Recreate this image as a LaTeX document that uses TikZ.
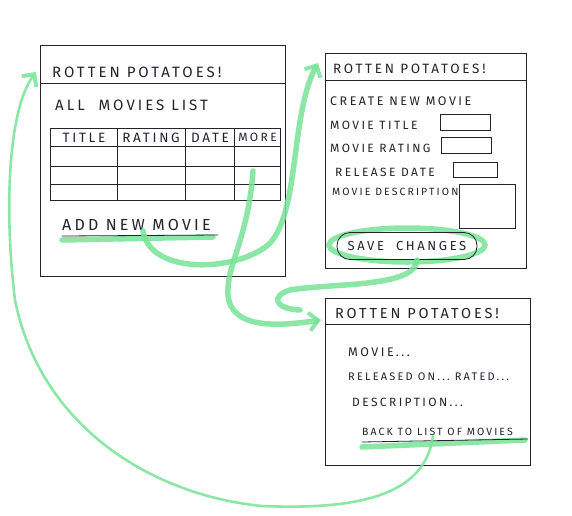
\documentclass[tikz,border=0pt]{standalone}
\usepackage{fontspec}
\newfontfamily\hand[LetterSpace=20]{Fira Sans}
\definecolor{markgreen}{RGB}{120, 226, 150}
\definecolor{penink}{RGB}{35, 35, 45}
\usetikzlibrary{arrows.meta, positioning, calc}

\begin{document}
\begin{tikzpicture}[
  x=1pt, y=-1pt,
  screen/.style={draw=penink, line width=0.9pt, minimum width=#1, inner sep=0pt},
  txt/.style={anchor=west, inner sep=0pt, text=penink, font=\hand\fontsize{#1}{#1}\selectfont},
  txt/.default=15,
  field/.style={draw=penink, line width=0.8pt, inner sep=0pt},
  marker/.style={draw=markgreen, line width=5.5pt, line cap=round, opacity=0.85},
  flow/.style={marker, -{Straight Barb[length=9pt, width=18pt, line width=4pt]}},
  longflow/.style={draw=markgreen, line width=2.6pt, line cap=round, opacity=0.85, -{Straight Barb[length=9pt, width=18pt, line width=4pt]}}
]
  \useasboundingbox (0,0) rectangle (572,515);

  % list screen
  \node[screen=245pt, minimum height=231pt] (scrA) at (162.5,160.5) {};
  \draw[penink, line width=0.9pt] (scrA.west |- 0,83) -- (scrA.east |- 0,83);
  \node[txt] (titleA) at (52,72) {ROTTEN POTATOES!};
  \node[txt] (allList) at (55,105) {ALL\ \ MOVIES LIST};
  \draw[penink, line width=0.8pt] (50,128) rectangle (280,200);
  \foreach \y in {146,166,184} \draw[penink, line width=0.8pt] (50,\y) -- (280,\y);
  \foreach \x in {117,185,234} \draw[penink, line width=0.8pt] (\x,128) -- (\x,200);
  \node[txt=13.5, anchor=center] (colTitle) at (84,137.5) {TITLE};
  \node[txt=13.5, anchor=center] (colRating) at (151,137.5) {RATING};
  \node[txt=13.5, anchor=center] (colDate) at (210,137.5) {DATE};
  \node[txt=12, anchor=center] (colMore) at (257.5,137.5) {MORE};
  \coordinate (moreRow) at (253,171);
  \node[txt=16] (addNew) at (62,225) {ADD NEW MOVIE};
  \draw[marker] (62,240) -- (213,237);
  \draw[penink, line width=0.8pt] (62,236) -- (218,235);

  % create screen
  \node[screen=201pt, minimum height=215pt] (scrB) at (425.5,160.5) {};
  \draw[penink, line width=0.9pt] (scrB.west |- 0,80) -- (scrB.east |- 0,80);
  \node[txt=13.5] (titleB) at (333,69) {ROTTEN POTATOES!};
  \node[txt=12.5] (createNew) at (330,101) {CREATE NEW MOVIE};
  \node[txt=12] (lblTitle) at (330,125) {MOVIE TITLE};
  \node[txt=12] (lblRating) at (330,148) {MOVIE RATING};
  \node[txt=12] (lblDate) at (335,172) {RELEASE DATE};
  \node[txt=10.5] (lblDesc) at (332,192) {MOVIE DESCRIPTION};
  \node[field, minimum width=50pt, minimum height=16pt] (inTitle) at (465,122) {};
  \node[field, minimum width=50pt, minimum height=16pt] (inRating) at (466,145) {};
  \node[field, minimum width=44pt, minimum height=15pt] (inDate) at (475,170) {};
  \node[field, minimum width=56pt, minimum height=44pt] (inDesc) at (487,206) {};
  \draw[marker] (407,245) ellipse [x radius=78pt, y radius=17pt];
  \node[txt=13, draw=penink, line width=0.8pt, rounded corners=13pt, minimum width=140pt, minimum height=27pt, anchor=center] (saveBtn) at (407,246) {SAVE\ \ CHANGES};

  % show screen
  \node[screen=205pt, minimum height=167pt] (scrC) at (427.5,381.5) {};
  \draw[penink, line width=0.9pt] (scrC.west |- 0,324) -- (scrC.east |- 0,324);
  \node[txt=14.5] (titleC) at (335,313) {ROTTEN POTATOES!};
  \node[txt=12.5] (movieLine) at (348,352) {MOVIE\,...};
  \node[txt=11] (releaseLine) at (348,377) {RELEASED ON...\ RATED...};
  \node[txt=12] (descLine) at (352,402) {DESCRIPTION...};
  \node[txt=10.5] (backLink) at (362,432) {BACK TO LIST OF MOVIES};
  \draw[marker] (362,447) -- (525,440);
  \draw[penink, line width=0.8pt] (362,442) -- (528,439);

  % flows
  \coordinate (inB) at (318,63);
  \coordinate (inC) at (321,320);
  \coordinate (inA) at (36,72);
  \draw[flow] (addNew.south -| 143,0) .. controls (150,275) and (235,272) .. (268,245)
    .. controls (300,215) and (290,115) .. (inB);
  \draw[flow] (moreRow) .. controls (248,240) and (226,265) .. (228,295)
    .. controls (231,330) and (280,326) .. (inC);
  \draw[marker] (saveBtn.south -| 417,0) .. controls (416,288) and (330,283) .. (290,290)
    .. controls (270,296) and (275,309) .. (300,310);
  \draw[longflow] (backLink.south -| 433,0) .. controls (425,495) and (360,510) .. (262,506)
    .. controls (150,495) and (40,425) .. (15,300)
    .. controls (4,210) and (8,110) .. (inA);
\end{tikzpicture}
\end{document}
